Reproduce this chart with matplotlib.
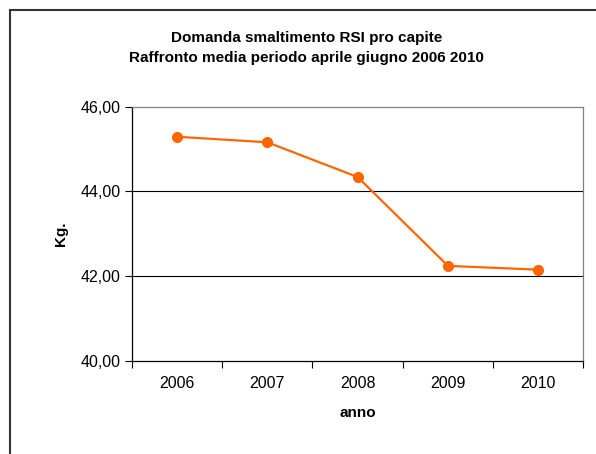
import matplotlib.pyplot as plt
from matplotlib.lines import Line2D
from matplotlib.ticker import FixedLocator

anni = ['2006', '2007', '2008', '2009', '2010']
kg = [45.29, 45.16, 44.34, 42.24, 42.15]
y_ticks = [40, 42, 44, 46]
y_labels = ['40,00', '42,00', '44,00', '46,00']

plt.rcParams['font.family'] = ['Liberation Sans', 'DejaVu Sans']

fig = plt.figure(figsize=(5.96, 4.54), dpi=100)
ax = fig.add_axes([0.221, 0.2055, 0.758, 0.5595])

x = list(range(len(anni)))
ax.plot(x, kg, color='#FF6600', linewidth=1.6, marker='o', markersize=7,
        markeredgecolor='#FF6600', zorder=3)

ax.set_xlim(-0.5, len(anni) - 0.5)
ax.set_ylim(40, 46)

# categorie centrate tra i tick
ax.xaxis.set_major_locator(FixedLocator([i - 0.5 for i in range(len(anni) + 1)]))
ax.xaxis.set_major_formatter(plt.NullFormatter())
ax.xaxis.set_minor_locator(FixedLocator(x))
ax.set_xticklabels(anni, minor=True)
ax.tick_params(axis='x', which='major', direction='out', length=5, width=0.8)
ax.tick_params(axis='x', which='minor', length=0, pad=11, labelsize=11.5)

ax.set_yticks(y_ticks)
ax.set_yticklabels(y_labels)
ax.tick_params(axis='y', direction='out', length=5, width=0.8, labelsize=11.5, pad=3)

for v in [42, 44]:
    ax.axhline(v, color='black', linewidth=0.8, zorder=1)

ax.spines['left'].set_color('black')
ax.spines['bottom'].set_color('black')
ax.spines['top'].set_color('#808080')
ax.spines['right'].set_color('#808080')
for s in ax.spines.values():
    s.set_linewidth(0.9)

ax.set_xlabel('anno', fontsize=11, fontweight='bold', labelpad=11)
ax.set_ylabel('Kg.', fontsize=11, fontweight='bold', labelpad=9)

fig.text(0.514, 0.917, 'Domanda smaltimento RSI pro capite', ha='center', va='center',
         fontsize=11, fontweight='bold')
fig.text(0.514, 0.873, 'Raffronto media periodo aprile giugno 2006 2010', ha='center',
         va='center', fontsize=11, fontweight='bold')

# bordo del grafico (solo alto e sinistra visibili)
fig.add_artist(Line2D([10 / 596, 1], [1 - 10 / 454, 1 - 10 / 454], color='#333333',
                      linewidth=1.5, transform=fig.transFigure))
fig.add_artist(Line2D([10 / 596, 10 / 596], [0, 1 - 10 / 454], color='#333333',
                      linewidth=1.5, transform=fig.transFigure))

fig.savefig('out.png', dpi=100)
